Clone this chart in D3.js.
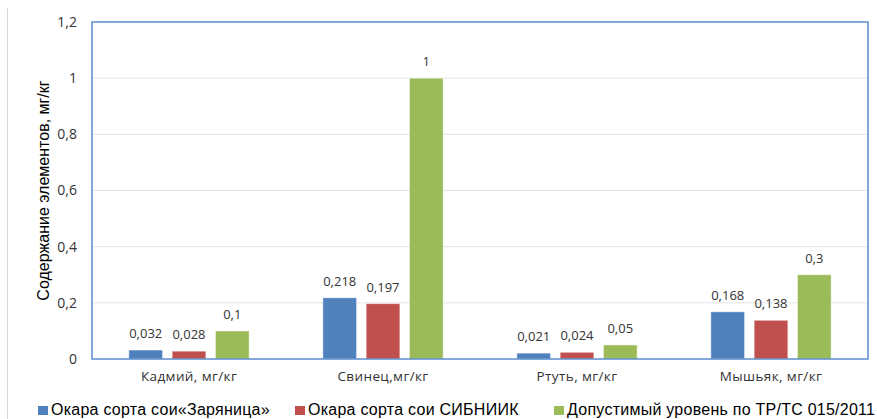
<!DOCTYPE html>
<html><head><meta charset="utf-8">
<script src="https://cdn.jsdelivr.net/npm/d3@7"></script>
<style>html,body{margin:0;padding:0;background:#fff;}svg{display:block;}</style>
</head><body>
<svg id="c" width="877" height="419"></svg>
<script>
const categories = ["Кадмий, мг/кг", "Свинец,мг/кг", "Ртуть, мг/кг", "Мышьяк, мг/кг"];
const seriesNames = ["Окара сорта сои«Заряница»", "Окара сорта сои СИБНИИК", "Допустимый уровень по ТР/ТС 015/2011"];
const zaryanitsa = [0.032, 0.218, 0.021, 0.168];
const sibniik = [0.028, 0.197, 0.024, 0.138];
const limitLevel = [0.1, 1, 0.05, 0.3];
const valueLabels = [
  ["0,032", "0,218", "0,021", "0,168"],
  ["0,028", "0,197", "0,024", "0,138"],
  ["0,1", "1", "0,05", "0,3"]
];
const yTicks = [0, 0.2, 0.4, 0.6, 0.8, 1, 1.2];
const yTickLabels = ["0", "0,2", "0,4", "0,6", "0,8", "1", "1,2"];
const yTitle = "Содержание элементов, мг/кг";
const colors = ["#4F81BD", "#C0504D", "#9BBB59"];

const series = [zaryanitsa, sibniik, limitLevel];
const svg = d3.select("#c");
const L = 92, R = 868, T = 22, B = 359;
const font = "'Open Sans', sans-serif";

const x0 = d3.scaleBand().domain(categories).range([L, R]).paddingInner(0.38).paddingOuter(0.19);
const x1 = d3.scaleBand().domain(d3.range(3)).range([0, x0.bandwidth()]).paddingInner(0.22);
const y = d3.scaleLinear().domain([0, 1.2]).range([B, T]);

// outer faint line
svg.append("line").attr("x1", 7.5).attr("x2", 7.5).attr("y1", 8).attr("y2", 419)
  .attr("stroke", "#d9d9d9").attr("stroke-width", 1);

// gridlines
svg.append("g").selectAll("line").data(yTicks.filter(t => t > 0 && t < 1.2)).join("line")
  .attr("x1", L).attr("x2", R).attr("y1", d => y(d)).attr("y2", d => y(d))
  .attr("stroke", "#e3e3e3").attr("stroke-width", 1);

// y axis tick labels
const yAxis = d3.axisLeft(y).tickValues(yTicks).tickFormat((d, i) => yTickLabels[i]).tickSize(0).tickPadding(15);
const ya = svg.append("g").attr("transform", `translate(${L},0)`).call(yAxis);
ya.select(".domain").remove();
ya.selectAll("text").attr("font-family", font).attr("font-size", 14).attr("fill", "#333");

// y title
svg.append("text").attr("transform", `translate(49,${(T + B) / 2}) rotate(-90)`)
  .attr("text-anchor", "middle").attr("font-family", "'Liberation Sans', Arial, sans-serif")
  .attr("font-size", 16).attr("fill", "#000").text(yTitle);

// bars
series.forEach((vals, si) => {
  const g = svg.append("g");
  g.selectAll("rect").data(vals).join("rect")
    .attr("x", (d, i) => x0(categories[i]) + x1(si))
    .attr("y", d => y(d))
    .attr("width", x1.bandwidth())
    .attr("height", d => y(0) - y(d))
    .attr("fill", colors[si])
    .attr("stroke", "#fff").attr("stroke-opacity", 0.6).attr("stroke-width", 0.8);
  g.selectAll("text").data(vals).join("text")
    .attr("x", (d, i) => x0(categories[i]) + x1(si) + x1.bandwidth() / 2)
    .attr("y", d => y(d) - 12)
    .attr("text-anchor", "middle").attr("font-family", font).attr("font-size", 13).attr("fill", "#333")
    .text((d, i) => valueLabels[si][i]);
});

// plot border
svg.append("rect").attr("x", L).attr("y", T).attr("width", R - L).attr("height", B - T)
  .attr("fill", "none").attr("stroke", "#5B8DCB").attr("stroke-width", 1.5);

// category labels
const xAxis = d3.axisBottom(x0).tickSize(0).tickPadding(12);
const xa = svg.append("g").attr("transform", `translate(0,${B})`).call(xAxis);
xa.select(".domain").remove();
xa.selectAll("text").attr("font-family", font).attr("font-size", 13.5).attr("letter-spacing", 0.4).attr("fill", "#333");

// legend
const legX = [38, 295, 554];
const lg = svg.append("g");
seriesNames.forEach((n, i) => {
  lg.append("rect").attr("x", legX[i]).attr("y", 406).attr("width", 10).attr("height", 9).attr("fill", colors[i]);
  lg.append("text").attr("x", legX[i] + 13).attr("y", 415)
    .attr("font-family", "'Liberation Sans', Arial, sans-serif").attr("font-size", 16).attr("letter-spacing", 0.25)
    .attr("fill", "#000").text(n);
});
</script>
</body></html>
